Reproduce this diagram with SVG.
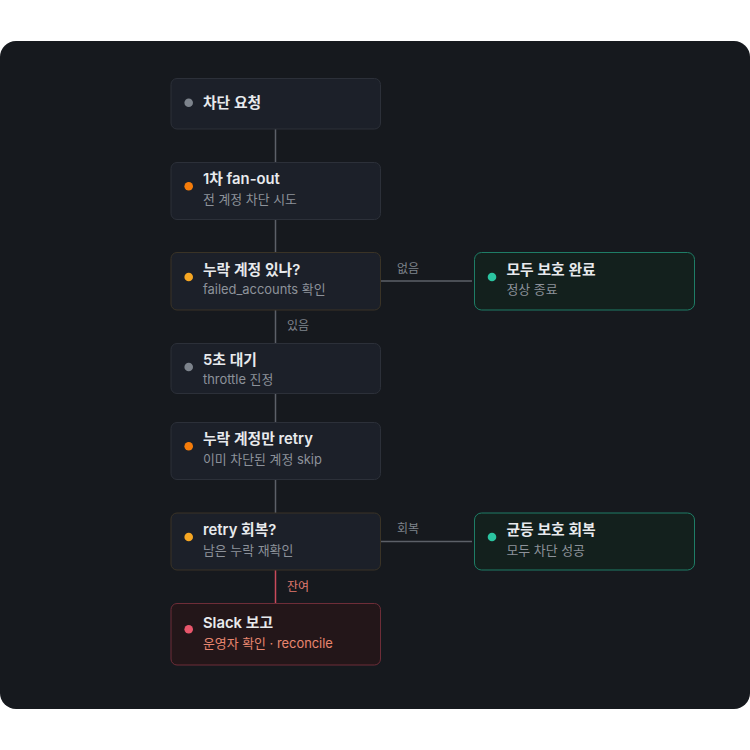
<svg xmlns="http://www.w3.org/2000/svg" width="750" height="750" viewBox="0 0 750 750">
  <style>
    .box { fill: #1c2029; stroke: #2c3039; stroke-width: 1; }
    .box-q { fill: #1c2029; stroke: #3a3326; stroke-width: 1; }
    .box-ok { fill: #13201d; stroke: #1e7d66; stroke-width: 1; }
    .box-err { fill: #231619; stroke: #6e2d38; stroke-width: 1; }
    .title { font-family: "Inter", "Noto Sans CJK KR", sans-serif; font-size: 14.8px; font-weight: 600; fill: #e8eaed; }
    .sub { font-family: "Inter", "Noto Sans CJK KR", sans-serif; font-size: 12.9px; fill: #8d929a; }
    .sub-err { fill: #e8866f; }
    .elabel { font-family: "Inter", "Noto Sans CJK KR", sans-serif; font-size: 12px; fill: #7f848c; }
    .elabel-err { fill: #e0796e; }
    .edge { stroke: #5c6068; stroke-width: 1.5; fill: none; }
    .edge-err { stroke: #c94a5b; stroke-width: 1.5; fill: none; }
  </style>

  <!-- dark canvas panel -->
  <rect x="0" y="41" width="750" height="668" rx="16" fill="#16191e"/>

  <g id="connectors">
    <line class="edge" x1="275.5" y1="129" x2="275.5" y2="162"/>
    <line class="edge" x1="275.5" y1="219" x2="275.5" y2="252"/>
    <line class="edge" x1="381" y1="281" x2="472" y2="281"/>
    <text class="elabel" x="397" y="273">없음</text>
    <line class="edge" x1="275.5" y1="310" x2="275.5" y2="343"/>
    <text class="elabel" x="287" y="330">있음</text>
    <line class="edge" x1="275.5" y1="393" x2="275.5" y2="422"/>
    <line class="edge" x1="275.5" y1="479" x2="275.5" y2="513"/>
    <line class="edge" x1="381" y1="541.5" x2="472" y2="541.5"/>
    <text class="elabel" x="397" y="533">회복</text>
    <line class="edge-err" x1="275.5" y1="570" x2="275.5" y2="603"/>
    <text class="elabel elabel-err" x="287" y="591">잔여</text>
  </g>

  <g id="node-request">
    <rect class="box" x="171" y="78.5" width="209.5" height="50.5" rx="6"/>
    <circle cx="188.7" cy="102.7" r="4.3" fill="#7d838c"/>
    <text class="title" x="203" y="107.5">차단 요청</text>
  </g>

  <g id="node-fanout">
    <rect class="box" x="171" y="162.5" width="209.5" height="57" rx="6"/>
    <circle cx="188.7" cy="186.3" r="4.3" fill="#f57c0a"/>
    <text class="title" x="203" y="184">1차 fan-out</text>
    <text class="sub" x="203" y="203.5">전 계정 차단 시도</text>
  </g>

  <g id="node-missing">
    <rect class="box-q" x="171" y="252.5" width="209.5" height="57.5" rx="6"/>
    <circle cx="188.7" cy="277" r="4.3" fill="#f5a623"/>
    <text class="title" x="203" y="274.5">누락 계정 있나?</text>
    <text class="sub" x="203" y="294">failed_accounts 확인</text>
  </g>

  <g id="node-done">
    <rect class="box-ok" x="474.5" y="252.5" width="220" height="57.5" rx="7"/>
    <circle cx="492" cy="277" r="4.3" fill="#2bc4a0"/>
    <text class="title" x="506.5" y="274.5">모두 보호 완료</text>
    <text class="sub" x="506.5" y="294">정상 종료</text>
  </g>

  <g id="node-wait">
    <rect class="box" x="171" y="343.5" width="209.5" height="50" rx="6"/>
    <circle cx="188.7" cy="367" r="4.3" fill="#7d838c"/>
    <text class="title" x="203" y="364.5">5초 대기</text>
    <text class="sub" x="203" y="383.5">throttle 진정</text>
  </g>

  <g id="node-retry">
    <rect class="box" x="171" y="422.5" width="209.5" height="57" rx="6"/>
    <circle cx="188.7" cy="446.3" r="4.3" fill="#f57c0a"/>
    <text class="title" x="203" y="444">누락 계정만 retry</text>
    <text class="sub" x="203" y="463.5">이미 차단된 계정 skip</text>
  </g>

  <g id="node-recovered">
    <rect class="box-q" x="171" y="513" width="209.5" height="57" rx="6"/>
    <circle cx="188.7" cy="537" r="4.3" fill="#f5a623"/>
    <text class="title" x="203" y="535">retry 회복?</text>
    <text class="sub" x="203" y="554.5">남은 누락 재확인</text>
  </g>

  <g id="node-even">
    <rect class="box-ok" x="474.5" y="513" width="220" height="57" rx="7"/>
    <circle cx="492" cy="537" r="4.3" fill="#2bc4a0"/>
    <text class="title" x="506.5" y="535">균등 보호 회복</text>
    <text class="sub" x="506.5" y="554.5">모두 차단 성공</text>
  </g>

  <g id="node-slack">
    <rect class="box-err" x="171" y="603.5" width="209.5" height="61.5" rx="6"/>
    <circle cx="188.7" cy="629.3" r="4.3" fill="#e8566b"/>
    <text class="title" x="203" y="627.5">Slack 보고</text>
    <text class="sub sub-err" x="203" y="647.5">운영자 확인 · reconcile</text>
  </g>
</svg>
